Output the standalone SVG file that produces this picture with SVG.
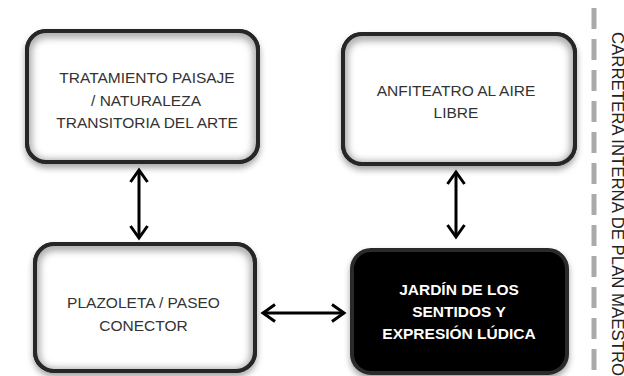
<svg xmlns="http://www.w3.org/2000/svg" width="624" height="376" viewBox="0 0 624 376">
<style>
.box{fill:#fff;stroke:#262626;stroke-width:4}
.dark{fill:#000;stroke:#2a2a2a;stroke-width:4}
.t{font-family:"Liberation Sans",Arial,sans-serif;font-size:15.5px;fill:#333;text-anchor:middle}
.tb{font-family:"Liberation Sans",Arial,sans-serif;font-size:15.5px;font-weight:bold;fill:#fff;text-anchor:middle}
.glow{fill:none;stroke:#aaa;stroke-width:10;filter:url(#blur)}
.conn{stroke:#000;stroke-width:3;fill:none;marker-start:url(#ah);marker-end:url(#ah)}
</style>
<defs>
<filter id="shadow" x="-10%" y="-10%" width="120%" height="130%">
<feGaussianBlur in="SourceAlpha" stdDeviation="3"/>
<feOffset dy="4" result="b"/>
<feFlood flood-color="#000" flood-opacity="0.35"/>
<feComposite in2="b" operator="in"/>
<feMerge><feMergeNode/><feMergeNode in="SourceGraphic"/></feMerge>
</filter>
<filter id="blur" x="-10%" y="-10%" width="120%" height="120%"><feGaussianBlur stdDeviation="3.5"/></filter>
<marker id="ah" viewBox="0 0 20 20" markerWidth="20" markerHeight="20" refX="14" refY="10" markerUnits="userSpaceOnUse" orient="auto-start-reverse">
<path d="M2,1.5 L14,10 L2,18.5" fill="none" stroke="#000" stroke-width="3" stroke-linejoin="miter"/>
</marker>
<clipPath id="c1"><rect x="27" y="31" width="231" height="131" rx="19"/></clipPath>
<clipPath id="c2"><rect x="343" y="34" width="232" height="130" rx="19"/></clipPath>
<clipPath id="c3"><rect x="35" y="244" width="220" height="127" rx="19"/></clipPath>
</defs>

<g id="carretera">
<line x1="594" y1="8" x2="594" y2="376" stroke="#aaa" stroke-width="5" stroke-dasharray="21 10"/>
<text transform="translate(612,32) rotate(90)" font-family="Liberation Sans,Arial,sans-serif" font-size="16.8" fill="#222">CARRETERA INTERNA DE PLAN MAESTRO</text>
</g>

<g id="n1">
<rect class="box" x="27" y="31" width="231" height="131" rx="19" filter="url(#shadow)"/>
<g clip-path="url(#c1)"><rect class="glow" x="27" y="33" width="231" height="131" rx="19"/></g>
<rect x="27" y="31" width="231" height="131" rx="19" fill="none" stroke="#262626" stroke-width="4"/>
<text class="t" x="147" y="83">TRATAMIENTO PAISAJE</text>
<text class="t" x="146" y="105.5">/ NATURALEZA</text>
<text class="t" x="147" y="128">TRANSITORIA DEL ARTE</text>
</g>

<g id="n2">
<rect class="box" x="343" y="34" width="232" height="130" rx="19" filter="url(#shadow)"/>
<g clip-path="url(#c2)"><rect class="glow" x="343" y="36" width="232" height="130" rx="19"/></g>
<rect x="343" y="34" width="232" height="130" rx="19" fill="none" stroke="#262626" stroke-width="4"/>
<text class="t" x="456" y="96">ANFITEATRO AL AIRE</text>
<text class="t" x="456" y="118">LIBRE</text>
</g>

<g id="n3">
<rect class="box" x="35" y="244" width="220" height="127" rx="19" filter="url(#shadow)"/>
<g clip-path="url(#c3)"><rect class="glow" x="35" y="246" width="220" height="127" rx="19"/></g>
<rect x="35" y="244" width="220" height="127" rx="19" fill="none" stroke="#262626" stroke-width="4"/>
<text class="t" x="143.5" y="308">PLAZOLETA / PASEO</text>
<text class="t" x="143.5" y="331">CONECTOR</text>
</g>

<g id="n4">
<rect class="dark" x="352" y="250" width="215" height="123" rx="19" filter="url(#shadow)"/>
<text class="tb" x="459" y="295">JARDÍN DE LOS</text>
<text class="tb" x="459" y="317">SENTIDOS Y</text>
<text class="tb" x="459" y="339">EXPRESIÓN LÚDICA</text>
</g>

<g id="connectors">
<line class="conn" x1="139" y1="170" x2="139" y2="238"/>
<line class="conn" x1="456" y1="172" x2="456" y2="237"/>
<line class="conn" x1="263" y1="313" x2="344" y2="313"/>
</g>
</svg>
